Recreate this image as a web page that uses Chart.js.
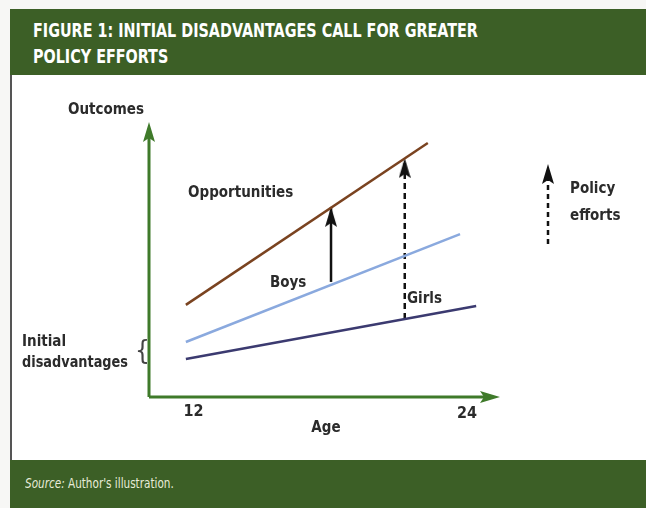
<!DOCTYPE html>
<html>
<head>
<meta charset="utf-8">
<script src="https://cdn.jsdelivr.net/npm/chart.js@4"></script>
<style>
  html, body { margin: 0; padding: 0; background: #f7f7f5; }
  body { width: 646px; height: 508px; position: relative; overflow: hidden;
         font-family: "Liberation Sans Narrow", "DejaVu Sans Condensed", sans-serif; }
  #header { position: absolute; left: 10px; top: 9px; width: 636px; height: 66px;
            background: #3c5f26; }
  #header div { position: absolute; left: 23px; top: 8px; color: #fff; font-weight: bold;
                font-size: 19px; line-height: 26px; white-space: nowrap;
                transform: scaleX(0.84); transform-origin: 0 0; }
  #panel { position: absolute; left: 10px; top: 75px; width: 636px; height: 385px;
           background: #fff; border-left: 2px solid #555; box-sizing: border-box; }
  #footer { position: absolute; left: 10px; top: 460px; width: 636px; height: 48px;
            background: #3c5f26; }
  #footer div { position: absolute; left: 15px; top: 15px; color: #e8ecd8; font-size: 14px;
                white-space: nowrap; transform: scaleX(0.83); transform-origin: 0 0; }
  #chartBox { position: absolute; left: 10px; top: 75px; width: 636px; height: 385px; }
</style>
</head>
<body>
<div id="header"><div>FIGURE 1: INITIAL DISADVANTAGES CALL FOR GREATER<br>POLICY EFFORTS</div></div>
<div id="panel"></div>
<div id="chartBox"><canvas id="illustration"></canvas></div>
<div id="footer"><div><i>Source:</i> Author's illustration.</div></div>

<script>
'use strict';

// ********************* DATA *********************

let ages = [11.8, 22.3];            // opportunities line
let opportunities = [34.5, 95.1];
let boysAges = [11.8, 23.7];
let boys = [20.6, 61.0];
let girlsAges = [11.8, 24.4];
let girls = [14.2, 34.1];

let solidArrowAge = 18.1;            // boys -> opportunities (tip sits on the line)
let solidArrow = [43.1, 71.2];
let dashedArrowAge = 21.3;           // girls -> opportunities
let dashedArrow = [29.2, 89.5];

let xTickLabels = [12, 24];

// ********************* STYLE *********************

const FONT = '"Liberation Sans Narrow", "DejaVu Sans Condensed", sans-serif';
const TEXT = '#2b2b2b';
const AXIS_GREEN = '#3f7a2a';
const HEAD_W = 12;
const HEAD_H = 20;

// narrow arrowhead used as a point style; image is centred on the point,
// so the head lives in the lower half and its tip lands on the value
let arrowHead = document.createElement('canvas');
arrowHead.width = HEAD_W;
arrowHead.height = HEAD_H * 2;
(function () {
  let h = arrowHead.getContext('2d');
  h.fillStyle = '#111';
  h.beginPath();
  h.moveTo(HEAD_W / 2, HEAD_H);
  h.lineTo(HEAD_W, HEAD_H * 2);
  h.lineTo(HEAD_W / 2, HEAD_H * 2 - 4);
  h.lineTo(0, HEAD_H * 2);
  h.closePath();
  h.fill();
})();

function toPoints(xs, ys) {
  return ys.map((y, i) => ({ x: Array.isArray(xs) ? xs[i] : xs, y: y }));
}

// ********************* PLUGIN: axes, labels, legend *********************

const decorPlugin = {
  id: 'decor',
  beforeDatasetsDraw(chart) {
    const c = chart.ctx;
    const x = chart.scales.x;
    const y = chart.scales.y;
    const left = x.left, bottom = y.bottom;
    c.save();
    c.strokeStyle = AXIS_GREEN;
    c.fillStyle = AXIS_GREEN;
    c.lineWidth = 3;
    // y axis
    c.beginPath();
    c.moveTo(left, bottom);
    c.lineTo(left, y.top);
    c.stroke();
    c.beginPath();
    c.moveTo(left, y.top - 8);
    c.lineTo(left - 6, y.top + 12);
    c.lineTo(left, y.top + 8);
    c.lineTo(left + 6, y.top + 12);
    c.closePath();
    c.fill();
    // x axis
    c.beginPath();
    c.moveTo(left, bottom);
    c.lineTo(x.right, bottom);
    c.stroke();
    c.beginPath();
    c.moveTo(x.right + 10, bottom);
    c.lineTo(x.right - 10, bottom - 6);
    c.lineTo(x.right - 6, bottom);
    c.lineTo(x.right - 10, bottom + 6);
    c.closePath();
    c.fill();
    c.restore();
  },
  afterDraw(chart) {
    const c = chart.ctx;
    const x = chart.scales.x;
    const y = chart.scales.y;
    c.save();
    c.fillStyle = TEXT;
    c.textBaseline = 'middle';

    // tick labels
    c.textAlign = 'center';
    c.font = 'bold 16px ' + FONT;
    c.fillText(String(xTickLabels[0]), x.getPixelForValue(xTickLabels[0]) + 3, y.bottom + 15);
    c.fillText(String(xTickLabels[1]), x.getPixelForValue(xTickLabels[1]), y.bottom + 17);

    c.font = 'bold 15px ' + FONT;
    c.fillText('Age', 316, 353);
    c.fillText('Outcomes', 96, 35);

    c.textAlign = 'left';
    c.fillText('Opportunities', 178, 118);
    c.fillText('Boys', 260, 208);
    c.fillText('Girls', 397, 224);
    c.fillText('Initial', 12, 267);
    c.fillText('disadvantages', 12, 288, 106);

    c.font = '26px ' + FONT;
    c.fillStyle = '#444';
    c.fillText('{', 125, 277);

    // legend: dashed arrow + text
    const lx = 538;
    c.strokeStyle = '#111';
    c.lineWidth = 2.5;
    c.setLineDash([5, 4]);
    c.beginPath();
    c.moveTo(lx, 169);
    c.lineTo(lx, 100);
    c.stroke();
    c.setLineDash([]);
    c.drawImage(arrowHead, lx - HEAD_W / 2, 89 - HEAD_H);

    c.fillStyle = TEXT;
    c.font = 'bold 15px ' + FONT;
    c.fillText('Policy', 560, 114);
    c.fillText('efforts', 560, 141);
    c.restore();
  }
};

// ********************* CHART *********************

let ctx = document.getElementById('illustration');

function lineSet(label, xs, ys, color) {
  return {
    label: label,
    data: toPoints(xs, ys),
    borderColor: color,
    borderWidth: 2.5,
    pointRadius: 0,
    tension: 0
  };
}

function arrowSet(label, xv, ys, dashed) {
  return {
    label: label,
    data: toPoints(xv, ys),
    borderColor: '#111',
    backgroundColor: '#111',
    borderWidth: 2.5,
    borderDash: dashed ? [6, 4] : [],
    pointStyle: ['circle', arrowHead],
    pointRadius: [0, 6],
    tension: 0,
    clip: false
  };
}

new Chart(ctx, {
  type: 'line',
  data: {
    datasets: [
      lineSet('Opportunities', ages, opportunities, '#7a4320'),
      lineSet('Boys', boysAges, boys, '#8aa9de'),
      lineSet('Girls', girlsAges, girls, '#3b3a70'),
      arrowSet('Policy (boys)', solidArrowAge, solidArrow, false),
      arrowSet('Policy (girls)', dashedArrowAge, dashedArrow, true)
    ]
  },
  options: {
    responsive: true,
    maintainAspectRatio: false,
    animation: false,
    layout: { padding: { left: 139, top: 55, right: 156, bottom: 63 } },
    plugins: { legend: { display: false }, tooltip: { enabled: false } },
    scales: {
      x: { type: 'linear', min: 10.2, max: 25, display: false },
      y: { type: 'linear', min: 0, max: 100, display: false }
    }
  },
  plugins: [decorPlugin]
});
</script>
</body>
</html>
